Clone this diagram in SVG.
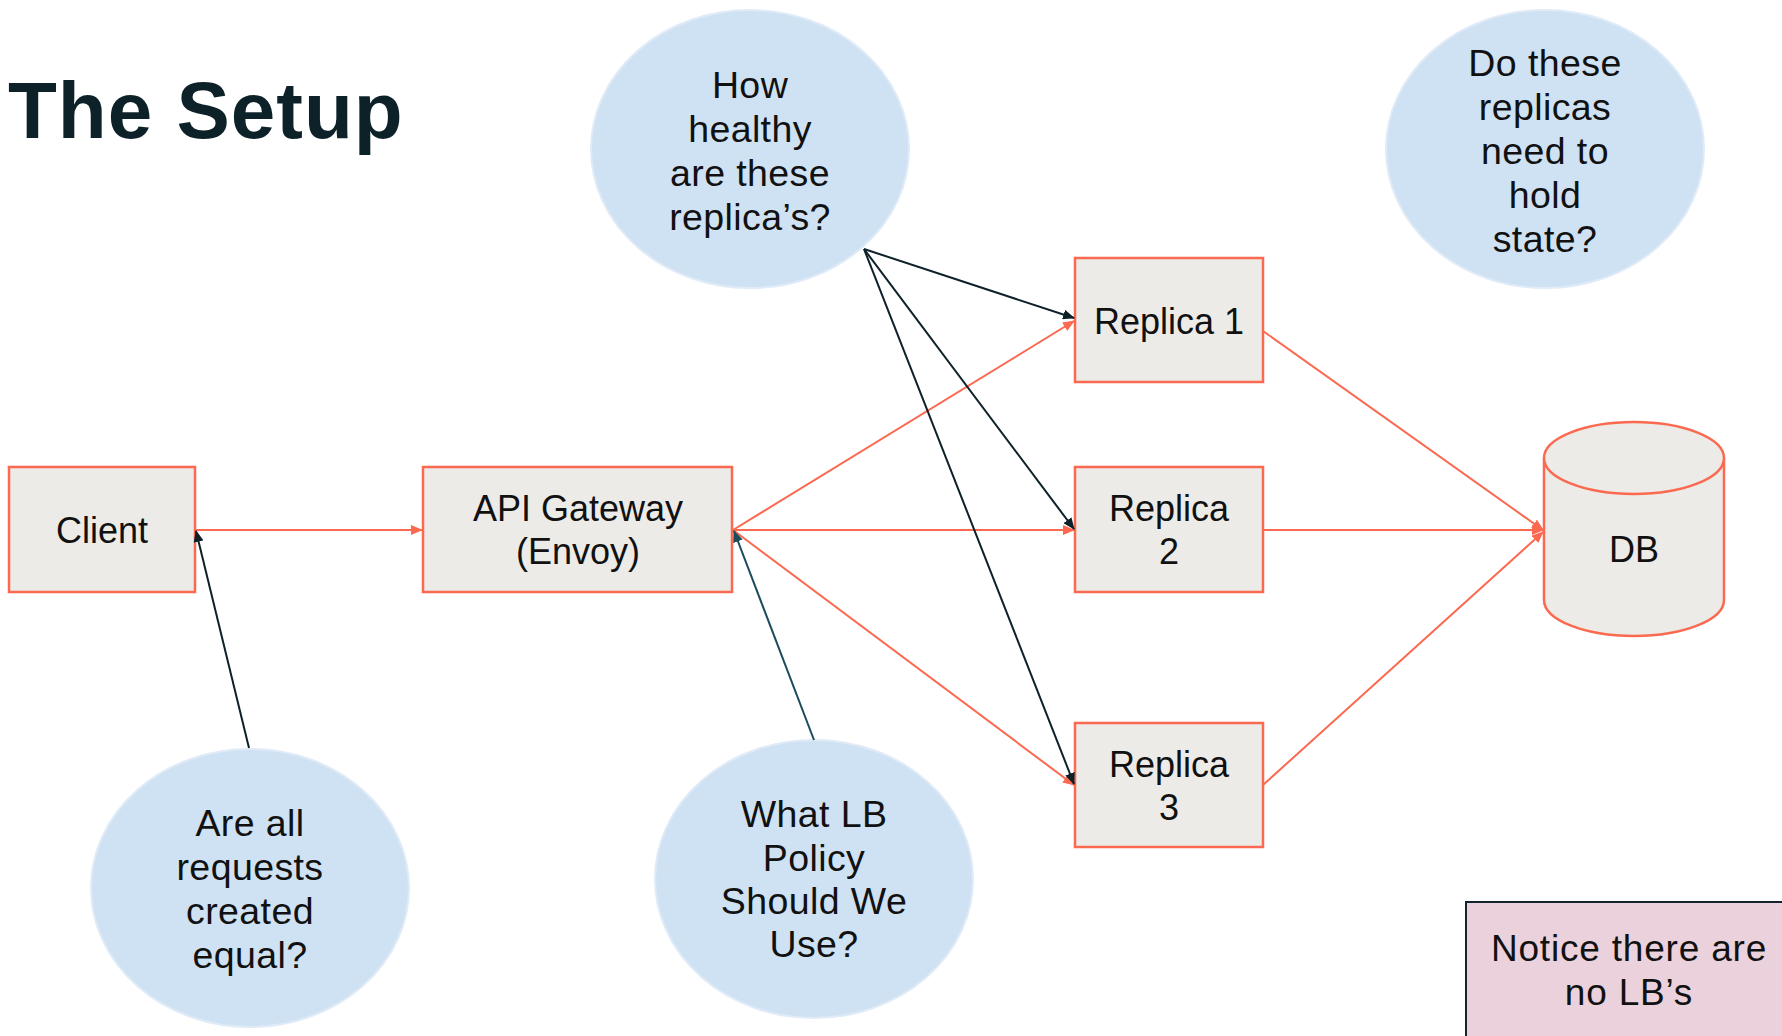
<svg xmlns="http://www.w3.org/2000/svg" width="1782" height="1036" viewBox="0 0 1782 1036">
  <style>
    .box { fill: #edebe7; stroke: #fb6a50; stroke-width: 2.5; }
    .bubble { fill: #cfe2f3; stroke: #e0ebf7; stroke-width: 2; }
    .note { fill: #ead1dc; stroke: #12242c; stroke-width: 2; }
    .lbl { font-family: "Liberation Sans", Arial, sans-serif; font-size: 36px; fill: #111; text-anchor: middle; }
    .nlbl { font-family: "Liberation Sans", Arial, sans-serif; font-size: 37px; letter-spacing: 0.8px; fill: #111; text-anchor: middle; }
    .blbl { font-family: "Liberation Sans", Arial, sans-serif; font-size: 37.5px; letter-spacing: 0.4px; fill: #111; text-anchor: middle; }
    .title { font-family: "Liberation Sans", Arial, sans-serif; font-size: 80px; font-weight: bold; letter-spacing: 1px; fill: #0d2129; }
    .flow { stroke: #fb6a50; stroke-width: 2; fill: none; }
    .ask { stroke: #0d2129; stroke-width: 2; fill: none; }
    .ask2 { stroke: #1b4b5c; stroke-width: 2; fill: none; }
  </style>
  <defs>
    <marker id="redHead" viewBox="0 0 12 10" refX="11" refY="5" markerWidth="12" markerHeight="10" markerUnits="userSpaceOnUse" orient="auto">
      <path d="M0,0 L12,5 L0,10 z" fill="#fb6a50"/>
    </marker>
    <marker id="darkHead" viewBox="0 0 12 10" refX="11" refY="5" markerWidth="12" markerHeight="10" markerUnits="userSpaceOnUse" orient="auto">
      <path d="M0,0 L12,5 L0,10 z" fill="#0d2129"/>
    </marker>
    <marker id="tealHead" viewBox="0 0 12 10" refX="11" refY="5" markerWidth="12" markerHeight="10" markerUnits="userSpaceOnUse" orient="auto">
      <path d="M0,0 L12,5 L0,10 z" fill="#1b4b5c"/>
    </marker>
  </defs>

  <rect width="1782" height="1036" fill="#ffffff"/>

  <text class="title" x="8" y="138">The Setup</text>

  <g id="q-health">
    <ellipse class="bubble" cx="750" cy="149" rx="159" ry="139"/>
    <text class="blbl" x="750" y="98">How</text>
    <text class="blbl" x="750" y="142">healthy</text>
    <text class="blbl" x="750" y="186">are these</text>
    <text class="blbl" x="750" y="230">replica’s?</text>
  </g>

  <g id="q-state">
    <ellipse class="bubble" cx="1545" cy="149" rx="159" ry="139"/>
    <text class="blbl" x="1545" y="76">Do these</text>
    <text class="blbl" x="1545" y="120">replicas</text>
    <text class="blbl" x="1545" y="164">need to</text>
    <text class="blbl" x="1545" y="208">hold</text>
    <text class="blbl" x="1545" y="252">state?</text>
  </g>

  <g id="q-requests">
    <ellipse class="bubble" cx="250" cy="888" rx="159" ry="139"/>
    <text class="blbl" x="250" y="836">Are all</text>
    <text class="blbl" x="250" y="880">requests</text>
    <text class="blbl" x="250" y="924">created</text>
    <text class="blbl" x="250" y="968">equal?</text>
  </g>

  <g id="q-policy">
    <ellipse class="bubble" cx="814" cy="879" rx="159" ry="139"/>
    <text class="blbl" x="814" y="827">What LB</text>
    <text class="blbl" x="814" y="871">Policy</text>
    <text class="blbl" x="814" y="914">Should We</text>
    <text class="blbl" x="814" y="957">Use?</text>
  </g>

  <g id="client">
    <rect class="box" x="9" y="467" width="186" height="125"/>
    <text class="lbl" x="102" y="543">Client</text>
  </g>

  <g id="gateway">
    <rect class="box" x="423" y="467" width="309" height="125"/>
    <text class="lbl" x="578" y="521">API Gateway</text>
    <text class="lbl" x="578" y="564">(Envoy)</text>
  </g>

  <g id="replica1">
    <rect class="box" x="1075" y="258" width="188" height="124"/>
    <text class="lbl" x="1169" y="334">Replica 1</text>
  </g>

  <g id="replica2">
    <rect class="box" x="1075" y="467" width="188" height="125"/>
    <text class="lbl" x="1169" y="521">Replica</text>
    <text class="lbl" x="1169" y="564">2</text>
  </g>

  <g id="replica3">
    <rect class="box" x="1075" y="723" width="188" height="124"/>
    <text class="lbl" x="1169" y="777">Replica</text>
    <text class="lbl" x="1169" y="820">3</text>
  </g>

  <g id="db">
    <path class="box" d="M1544,458 L1544,600 A90,36 0 0 0 1724,600 L1724,458 A90,36 0 0 0 1544,458 Z"/>
    <path class="box" d="M1544,458 A90,36 0 0 0 1724,458" fill="none"/>
    <text class="lbl" x="1634" y="562">DB</text>
  </g>

  <g id="note">
    <rect class="note" x="1466" y="902" width="330" height="150"/>
    <text class="nlbl" x="1629" y="961">Notice there are</text>
    <text class="nlbl" x="1629" y="1005">no LB’s</text>
  </g>

  <g id="connectors">
    <line class="flow" x1="195" y1="530" x2="422" y2="530" marker-end="url(#redHead)"/>
    <line class="flow" x1="733" y1="530" x2="1074" y2="321" marker-end="url(#redHead)"/>
    <line class="flow" x1="733" y1="530" x2="1074" y2="530" marker-end="url(#redHead)"/>
    <line class="flow" x1="733" y1="530" x2="1074" y2="785" marker-end="url(#redHead)"/>
    <line class="flow" x1="1263" y1="331" x2="1543" y2="530" marker-end="url(#redHead)"/>
    <line class="flow" x1="1263" y1="530" x2="1543" y2="530" marker-end="url(#redHead)"/>
    <line class="flow" x1="1263" y1="785" x2="1543" y2="532" marker-end="url(#redHead)"/>

    <line class="ask" x1="864" y1="249" x2="1074" y2="318" marker-end="url(#darkHead)"/>
    <line class="ask" x1="864" y1="249" x2="1074" y2="529" marker-end="url(#darkHead)"/>
    <line class="ask" x1="864" y1="249" x2="1074" y2="784" marker-end="url(#darkHead)"/>
    <line class="ask" x1="249" y1="748" x2="196" y2="531" marker-end="url(#darkHead)"/>
    <line class="ask2" x1="814" y1="740" x2="734" y2="531" marker-end="url(#tealHead)"/>
  </g>
</svg>
